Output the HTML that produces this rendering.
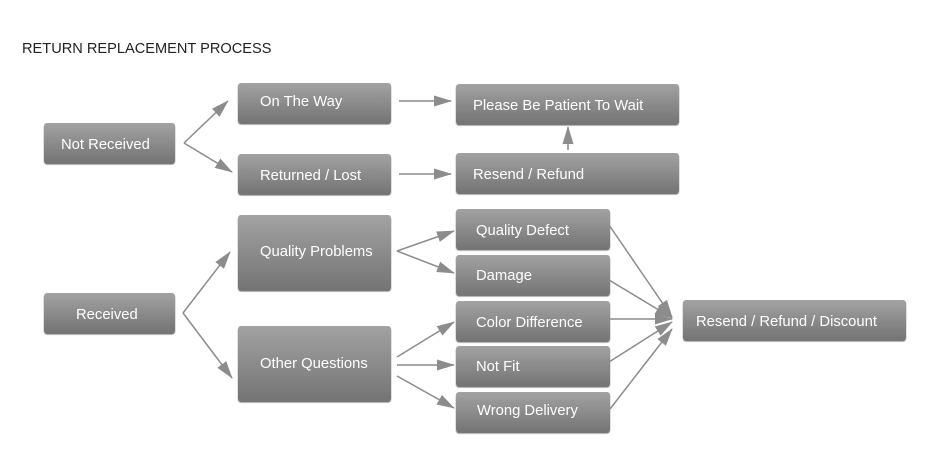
<!DOCTYPE html>
<html><head><style>
body{margin:0;background:#fff;}
svg{display:block;font-family:"Liberation Sans",Arial,sans-serif;}
.t{fill:#fff;font-size:14.8px;}
</style></head><body>
<svg width="950" height="472" viewBox="0 0 950 472">
<defs>
<linearGradient id="g" x1="0" y1="0" x2="0" y2="1">
<stop offset="0" stop-color="#a2a2a2"/><stop offset="1" stop-color="#747474"/>
</linearGradient>
<filter id="s" x="-5%" y="-10%" width="110%" height="130%"><feDropShadow dx="0" dy="1.5" stdDeviation="0.6" flood-color="#333" flood-opacity="0.7"/></filter>
<marker id="a" markerWidth="18" markerHeight="12" refX="17" refY="6" orient="auto" markerUnits="userSpaceOnUse">
<path d="M0,0.5 L18,6 L0,11.5 Z" fill="#8c8c8c"/></marker>
</defs>
<text x="22" y="53" font-size="14.6" fill="#222">RETURN REPLACEMENT PROCESS</text>
<g filter="url(#s)" fill="url(#g)">
<rect x="44" y="123" width="131" height="40" rx="3"/>
<rect x="238" y="83" width="153" height="40" rx="3"/>
<rect x="238" y="154" width="153" height="40" rx="3"/>
<rect x="456" y="84" width="223" height="40" rx="3"/>
<rect x="456" y="153" width="223" height="40" rx="3"/>
<rect x="44" y="293" width="131" height="40" rx="3"/>
<rect x="238" y="215" width="153" height="75" rx="3"/>
<rect x="238" y="326" width="153" height="75" rx="3"/>
<rect x="456" y="209" width="154" height="40" rx="3"/>
<rect x="456" y="255" width="154" height="40" rx="3"/>
<rect x="456" y="301" width="154" height="40" rx="3"/>
<rect x="456" y="346" width="154" height="40" rx="3"/>
<rect x="456" y="392" width="154" height="40" rx="3"/>
<rect x="683" y="300" width="223" height="40" rx="3"/>
</g>
<g class="t">
<text x="61" y="149">Not Received</text>
<text x="260" y="106">On The Way</text>
<text x="260" y="180">Returned / Lost</text>
<text x="473" y="110">Please Be Patient To Wait</text>
<text x="473" y="179">Resend / Refund</text>
<text x="76" y="319">Received</text>
<text x="260" y="256">Quality Problems</text>
<text x="260" y="368">Other Questions</text>
<text x="476" y="235">Quality Defect</text>
<text x="476" y="280">Damage</text>
<text x="476" y="327">Color Difference</text>
<text x="476" y="371">Not Fit</text>
<text x="477" y="415">Wrong Delivery</text>
<text x="696" y="326">Resend / Refund / Discount</text>
</g>
<g stroke="#8c8c8c" stroke-width="1.5" fill="none" marker-end="url(#a)">
<path d="M184,143 L228,101"/>
<path d="M184,143 L232,172"/>
<path d="M399,101 L451,101"/>
<path d="M399,174 L451,174"/>
<path d="M568,150 L568,127"/>
<path d="M183,313 L230,252"/>
<path d="M183,313 L232,378"/>
<path d="M397,251 L454,231"/>
<path d="M397,251 L454,273"/>
<path d="M397,357 L454,322"/>
<path d="M397,365 L454,365"/>
<path d="M397,376 L454,408"/>
<path d="M609,225 L672,317"/>
<path d="M609,280 L672,318"/>
<path d="M609,319 L672,319"/>
<path d="M609,362 L672,322"/>
<path d="M610,409 L672,329"/>
</g>
</svg>
</body></html>
